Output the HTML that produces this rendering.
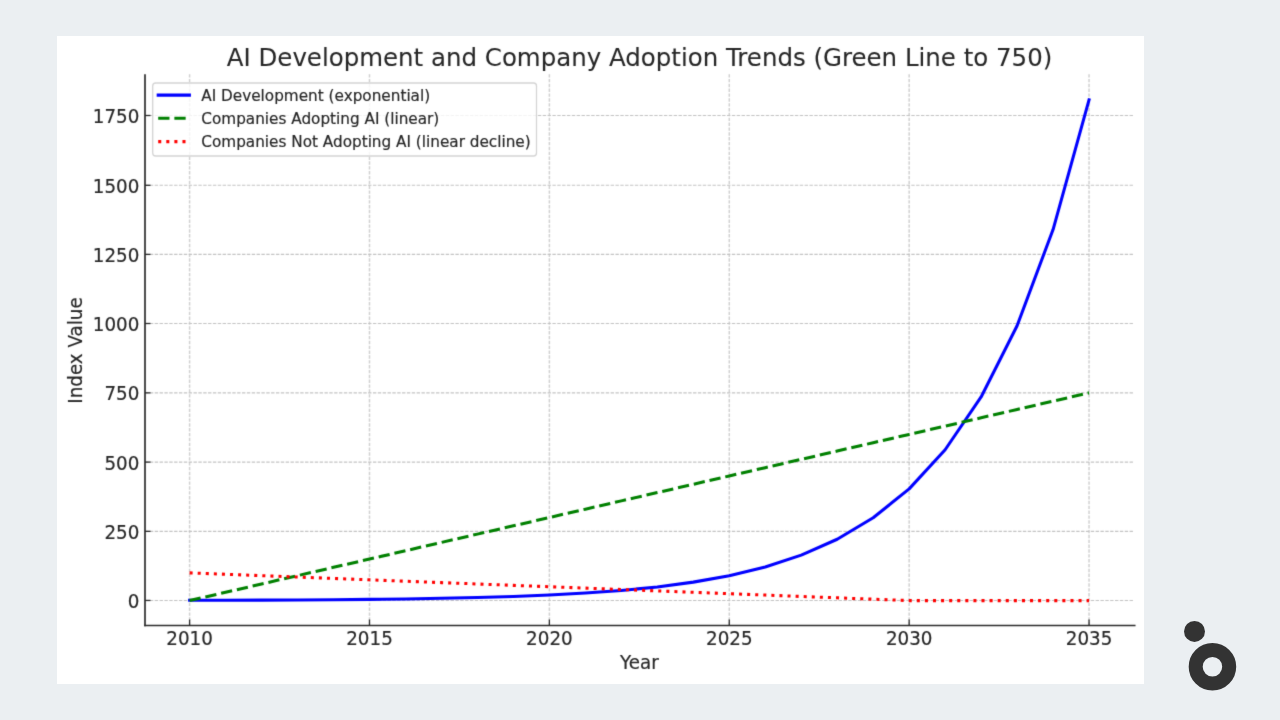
<!DOCTYPE html>
<html lang="en"><head><meta charset="utf-8"><title>AI Development and Company Adoption Trends</title>
<style>
html,body{margin:0;padding:0;}
body{width:1280px;height:720px;overflow:hidden;background:#ebeff2;position:relative;font-family:"DejaVu Sans","Liberation Sans",sans-serif;}
.card{position:absolute;left:57px;top:35.5px;width:1087.3px;height:648.3px;background:#fff;}
svg{position:absolute;left:0;top:0;}
text{font-family:"DejaVu Sans","Liberation Sans",sans-serif;fill:#262626;stroke:#262626;stroke-width:0.18px;}
.tick{font-size:18.3px;}
.lab{font-size:18.3px;}
.title{font-size:24.47px;stroke-width:0.08px;}
.leg{font-size:15.25px;}
</style></head><body>
<div class="card"></div>
<svg width="1280" height="720" viewBox="0 0 1280 720">

<defs><filter id="soft" filterUnits="userSpaceOnUse" x="50" y="30" width="1100" height="660" color-interpolation-filters="sRGB"><feConvolveMatrix order="3" kernelMatrix="0.01440 0.09120 0.01440 0.09120 0.57760 0.09120 0.01440 0.09120 0.01440" divisor="1" edgeMode="none" preserveAlpha="false"/></filter></defs>
<g filter="url(#soft)">
<g stroke="#c3c3c3" stroke-width="1.1" stroke-dasharray="3.4 1.45" fill="none">
<line x1="189.60" y1="625.5" x2="189.60" y2="74.3" stroke="#d1d1d1" stroke-width="1.5"/>
<line x1="369.49" y1="625.5" x2="369.49" y2="74.3" stroke="#d1d1d1" stroke-width="1.5"/>
<line x1="549.38" y1="625.5" x2="549.38" y2="74.3" stroke="#d1d1d1" stroke-width="1.5"/>
<line x1="729.27" y1="625.5" x2="729.27" y2="74.3" stroke="#d1d1d1" stroke-width="1.5"/>
<line x1="909.16" y1="625.5" x2="909.16" y2="74.3" stroke="#d1d1d1" stroke-width="1.5"/>
<line x1="1089.05" y1="625.5" x2="1089.05" y2="74.3" stroke="#d1d1d1" stroke-width="1.5"/>
<line x1="145.0" y1="600.45" x2="1134.2" y2="600.45"/>
<line x1="145.0" y1="531.35" x2="1134.2" y2="531.35"/>
<line x1="145.0" y1="462.10" x2="1134.2" y2="462.10"/>
<line x1="145.0" y1="392.85" x2="1134.2" y2="392.85"/>
<line x1="145.0" y1="323.50" x2="1134.2" y2="323.50"/>
<line x1="145.0" y1="254.40" x2="1134.2" y2="254.40"/>
<line x1="145.0" y1="185.30" x2="1134.2" y2="185.30"/>
<line x1="145.0" y1="115.50" x2="1134.2" y2="115.50"/>
</g>
<polyline points="189.60,600.32 225.58,600.23 261.56,600.10 297.53,599.92 333.51,599.68 369.49,599.36 405.47,598.92 441.45,598.34 477.42,597.55 513.40,596.48 549.38,595.04 585.36,593.09 621.34,590.46 657.31,586.92 693.29,582.13 729.27,575.67 765.25,566.94 801.23,555.17 837.20,539.27 873.18,517.81 909.16,488.85 945.14,449.75 981.12,396.98 1017.09,325.74 1053.07,229.58 1089.05,99.77" fill="none" stroke="#0000ff" stroke-width="3.06" stroke-linecap="square" stroke-linejoin="round"/>
<polyline points="189.60,600.60 225.58,592.29 261.56,583.98 297.53,575.67 333.51,567.36 369.49,559.05 405.47,550.74 441.45,542.43 477.42,534.12 513.40,525.81 549.38,517.50 585.36,509.19 621.34,500.88 657.31,492.57 693.29,484.26 729.27,475.95 765.25,467.64 801.23,459.33 837.20,451.02 873.18,442.71 909.16,434.40 945.14,426.09 981.12,417.78 1017.09,409.47 1053.07,401.16 1089.05,392.85" fill="none" stroke="#008000" stroke-width="3.06" stroke-dasharray="11.29 4.88" />
<polyline points="189.60,572.90 225.58,574.28 261.56,575.67 297.53,577.06 333.51,578.44 369.49,579.83 405.47,581.21 441.45,582.60 477.42,583.98 513.40,585.37 549.38,586.75 585.36,588.13 621.34,589.52 657.31,590.90 693.29,592.29 729.27,593.68 765.25,595.06 801.23,596.45 837.20,597.83 873.18,599.22 909.16,600.60 945.14,600.60 981.12,600.60 1017.09,600.60 1053.07,600.60 1089.05,600.60" fill="none" stroke="#ff0000" stroke-width="3.06" stroke-dasharray="3.05 5.036" />
<g stroke="#2b2b2b" stroke-width="1.7" fill="none" stroke-linecap="square">
<line x1="145.0" y1="75.1" x2="145.0" y2="625.5"/>
<line x1="145.0" y1="625.5" x2="1134.7" y2="625.5"/>
</g>
<g stroke="#2b2b2b" stroke-width="1.3" fill="none">
<line x1="189.60" y1="625.5" x2="189.60" y2="619.5"/>
<line x1="369.49" y1="625.5" x2="369.49" y2="619.5"/>
<line x1="549.38" y1="625.5" x2="549.38" y2="619.5"/>
<line x1="729.27" y1="625.5" x2="729.27" y2="619.5"/>
<line x1="909.16" y1="625.5" x2="909.16" y2="619.5"/>
<line x1="1089.05" y1="625.5" x2="1089.05" y2="619.5"/>
<line x1="145.0" y1="600.45" x2="150.5" y2="600.45"/>
<line x1="145.0" y1="531.35" x2="150.5" y2="531.35"/>
<line x1="145.0" y1="462.10" x2="150.5" y2="462.10"/>
<line x1="145.0" y1="392.85" x2="150.5" y2="392.85"/>
<line x1="145.0" y1="323.50" x2="150.5" y2="323.50"/>
<line x1="145.0" y1="254.40" x2="150.5" y2="254.40"/>
<line x1="145.0" y1="185.30" x2="150.5" y2="185.30"/>
<line x1="145.0" y1="115.50" x2="150.5" y2="115.50"/>
</g>
<text class="tick" transform="translate(189.60,645.35) scale(1,1.095)" text-anchor="middle">2010</text>
<text class="tick" transform="translate(369.49,645.35) scale(1,1.095)" text-anchor="middle">2015</text>
<text class="tick" transform="translate(549.38,645.35) scale(1,1.095)" text-anchor="middle">2020</text>
<text class="tick" transform="translate(729.27,645.35) scale(1,1.095)" text-anchor="middle">2025</text>
<text class="tick" transform="translate(909.16,645.35) scale(1,1.095)" text-anchor="middle">2030</text>
<text class="tick" transform="translate(1089.05,645.35) scale(1,1.095)" text-anchor="middle">2035</text>
<text class="tick" transform="translate(139.3,607.95) scale(1,1.095)" text-anchor="end">0</text>
<text class="tick" transform="translate(139.3,538.85) scale(1,1.095)" text-anchor="end">250</text>
<text class="tick" transform="translate(139.3,469.60) scale(1,1.095)" text-anchor="end">500</text>
<text class="tick" transform="translate(139.3,400.35) scale(1,1.095)" text-anchor="end">750</text>
<text class="tick" transform="translate(139.3,331.00) scale(1,1.095)" text-anchor="end">1000</text>
<text class="tick" transform="translate(139.3,261.90) scale(1,1.095)" text-anchor="end">1250</text>
<text class="tick" transform="translate(139.3,192.80) scale(1,1.095)" text-anchor="end">1500</text>
<text class="tick" transform="translate(139.3,123.00) scale(1,1.095)" text-anchor="end">1750</text>
<text class="lab" transform="translate(639.4,669.2) scale(1,1.08)" text-anchor="middle">Year</text>
<text class="lab" transform="translate(82.3,350.5) rotate(-90) scale(1,1.08)" text-anchor="middle">Index Value</text>
<text class="title" x="639.5" y="65.7" text-anchor="middle">AI Development and Company Adoption Trends (Green Line to 750)</text>
<rect x="152.7" y="83" width="383.8" height="73" rx="3" ry="3" fill="#ffffff" fill-opacity="0.8" stroke="#d4d4d4" stroke-width="1.3"/>
<line x1="158.2" y1="95.1" x2="189.4" y2="95.1" stroke="#0000ff" stroke-width="3.06" stroke-linecap="square"/>
<line x1="158.2" y1="118.2" x2="188.4" y2="118.2" stroke="#008000" stroke-width="3.06" stroke-dasharray="11.29 4.88"/>
<line x1="158.2" y1="141.6" x2="188.4" y2="141.6" stroke="#ff0000" stroke-width="3.06" stroke-dasharray="3.05 5.036"/>
<text class="leg" x="201.3" y="100.6">AI Development (exponential)</text>
<text class="leg" x="201.3" y="123.7">Companies Adopting AI (linear)</text>
<text class="leg" x="201.3" y="146.8">Companies Not Adopting AI (linear decline)</text>
</g>
<circle cx="1194.5" cy="631.4" r="10.5" fill="#333333"/>
<circle cx="1212.45" cy="666.75" r="16.75" fill="none" stroke="#333333" stroke-width="14"/>
</svg></body></html>
